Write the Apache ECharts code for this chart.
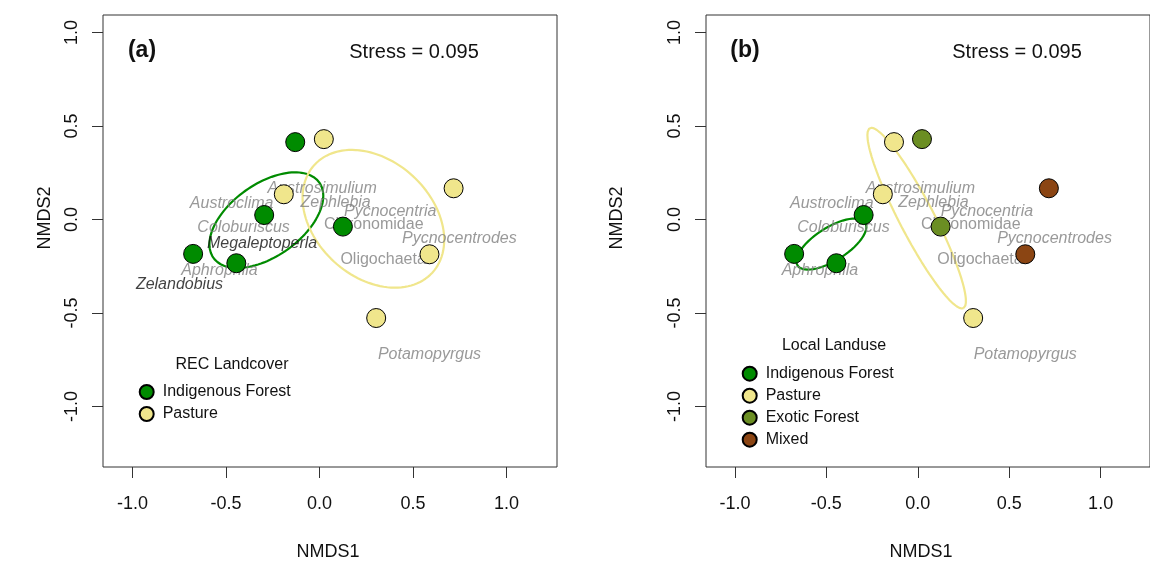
<!DOCTYPE html>
<html>
<head>
<meta charset="utf-8">
<script src="https://cdn.jsdelivr.net/npm/echarts@6/dist/echarts.min.js"></script>
<style>
  html, body { margin: 0; padding: 0; background: #ffffff; }
  #chart { width: 1150px; height: 562px; }
</style>
</head>
<body>
<div id="chart"></div>
<script>
// NMDS site scores (10 stream sites)
const siteX = [-0.130, 0.023, 0.717, -0.191, -0.296, 0.125, -0.676, -0.445, 0.588, 0.303];
const siteY = [0.414, 0.430, 0.167, 0.135, 0.024, -0.038, -0.184, -0.234, -0.186, -0.527];

// Site classification: REC landcover (panel a) and local landuse (panel b)
const recLandcover = ['Indigenous Forest', 'Pasture', 'Pasture', 'Pasture', 'Indigenous Forest',
                      'Indigenous Forest', 'Indigenous Forest', 'Indigenous Forest', 'Pasture', 'Pasture'];
const localLanduse = ['Pasture', 'Exotic Forest', 'Mixed', 'Pasture', 'Indigenous Forest',
                      'Exotic Forest', 'Indigenous Forest', 'Indigenous Forest', 'Mixed', 'Pasture'];
const recClasses = ['Indigenous Forest', 'Pasture'];
const localClasses = ['Indigenous Forest', 'Pasture', 'Exotic Forest', 'Mixed'];
const localEllipseClasses = ['Indigenous Forest', 'Pasture'];

// Species scores
const speciesNames = ['Austrosimulium', 'Austroclima', 'Zephlebia', 'Pycnocentria', 'Chironomidae',
                      'Coloburiscus', 'Pycnocentrodes', 'Megaleptoperla', 'Oligochaeta', 'Aphrophila',
                      'Zelandobius', 'Potamopyrgus'];
const speciesX = [0.014, -0.470, 0.086, 0.378, 0.290, -0.406, 0.748, -0.307, 0.340, -0.535, -0.749, 0.588];
const speciesY = [0.167, 0.088, 0.092, 0.045, -0.027, -0.044, -0.100, -0.127, -0.213, -0.274, -0.350, -0.725];
// Taxa labelled on the local-landuse ordination
const speciesPanelB = ['Austrosimulium', 'Austroclima', 'Zephlebia', 'Pycnocentria', 'Chironomidae',
                       'Coloburiscus', 'Pycnocentrodes', 'Oligochaeta', 'Aphrophila', 'Potamopyrgus'];
// Indicator taxa for REC landcover
const indicatorTaxa = ['Megaleptoperla', 'Zelandobius'];

const tickValues = [-1.0, -0.5, 0.0, 0.5, 1.0];
const stressValue = 0.095;

// ---- styling ----
const FONT = "'Liberation Sans', Arial, Helvetica, sans-serif";
const classColors = {
  'Indigenous Forest': '#008B00',
  'Pasture': '#F0E68C',
  'Exotic Forest': '#6B8E23',
  'Mixed': '#8B4513'
};
const uprightTaxa = ['Chironomidae', 'Oligochaeta'];
const X_RANGE = [-1.158, 1.270];
const Y_RANGE = [-1.324, 1.094];
const panels = [
  { left: 103, title: '(a)', legendTitle: 'REC Landcover', groups: recLandcover, classes: recClasses,
    ellipseClasses: recClasses, taxa: speciesNames,
    legendLeft: 138.7, legendTop: 384, legendTitleX: 232, legendTitleY: 365,
    xNameX: 328, yNameX: 45 },
  { left: 706, title: '(b)', legendTitle: 'Local Landuse', groups: localLanduse, classes: localClasses,
    ellipseClasses: localEllipseClasses, taxa: speciesPanelB,
    legendLeft: 741.7, legendTop: 365.7, legendTitleX: 834, legendTitleY: 346,
    xNameX: 921, yNameX: 617 }
];

// Standard-deviation ellipse of a group of site scores (sample covariance)
function sdEllipse(xs, ys) {
  const n = xs.length;
  const mx = xs.reduce((s, v) => s + v, 0) / n;
  const my = ys.reduce((s, v) => s + v, 0) / n;
  let sxx = 0, syy = 0, sxy = 0;
  for (let i = 0; i < n; i++) {
    const dx = xs[i] - mx, dy = ys[i] - my;
    sxx += dx * dx; syy += dy * dy; sxy += dx * dy;
  }
  sxx /= (n - 1); syy /= (n - 1); sxy /= (n - 1);
  const mid = (sxx + syy) / 2;
  const rad = Math.sqrt(((sxx - syy) / 2) ** 2 + sxy * sxy);
  const r1 = Math.sqrt(mid + rad), r2 = Math.sqrt(Math.max(mid - rad, 0));
  const th = 0.5 * Math.atan2(2 * sxy, sxx - syy);
  const pts = [];
  for (let k = 0; k <= 120; k++) {
    const t = (2 * Math.PI * k) / 120;
    pts.push([
      mx + r1 * Math.cos(th) * Math.cos(t) - r2 * Math.sin(th) * Math.sin(t),
      my + r1 * Math.sin(th) * Math.cos(t) + r2 * Math.cos(th) * Math.sin(t)
    ]);
  }
  return pts;
}

const grid = [], xAxis = [], yAxis = [], series = [], legend = [], graphic = [];

panels.forEach((p, gi) => {
  grid.push({ left: p.left, top: 15, width: 454, height: 452, show: true,
              borderColor: '#333', borderWidth: 1, backgroundColor: 'transparent' });
  const axisCommon = {
    gridIndex: gi, type: 'value',
    axisLine: { show: false, onZero: false },
    axisTick: { show: true, customValues: tickValues, length: 11, lineStyle: { color: '#333', width: 1 } },
    splitLine: { show: false }
  };
  xAxis.push(Object.assign({}, axisCommon, {
    min: X_RANGE[0], max: X_RANGE[1],
    axisLabel: { customValues: tickValues, formatter: v => v.toFixed(1), margin: 28,
                 fontSize: 18, color: '#111', fontFamily: FONT }
  }));
  yAxis.push(Object.assign({}, axisCommon, {
    min: Y_RANGE[0], max: Y_RANGE[1],
    axisLabel: { customValues: tickValues, formatter: v => v.toFixed(1), margin: 22, rotate: 90,
                 fontSize: 18, color: '#111', fontFamily: FONT }
  }));

  // group ellipses
  p.ellipseClasses.forEach(cls => {
    const xs = [], ys = [];
    p.groups.forEach((g, i) => { if (g === cls) { xs.push(siteX[i]); ys.push(siteY[i]); } });
    series.push({
      type: 'line', name: cls + ' ellipse', xAxisIndex: gi, yAxisIndex: gi,
      data: sdEllipse(xs, ys), showSymbol: false, symbol: 'none', smooth: false,
      lineStyle: { color: classColors[cls], width: 2.2 }, z: 2, silent: true
    });
  });

  // species labels
  series.push({
    type: 'scatter', name: 'species ' + gi, xAxisIndex: gi, yAxisIndex: gi, z: 3, silent: true,
    symbolSize: 1, itemStyle: { color: 'transparent' },
    data: p.taxa.map(name => {
      const i = speciesNames.indexOf(name);
      const ind = gi === 0 && indicatorTaxa.includes(name);
      return {
        value: [speciesX[i], speciesY[i]], name,
        label: { fontStyle: uprightTaxa.includes(name) ? 'normal' : 'italic',
                 color: ind ? '#111' : '#7f7f7f' }
      };
    }),
    label: { show: true, position: 'inside', formatter: '{b}', fontSize: 16, fontFamily: FONT }
  });

  // sites
  p.classes.forEach(cls => {
    const data = [];
    p.groups.forEach((g, i) => { if (g === cls) data.push([siteX[i], siteY[i]]); });
    series.push({
      type: 'scatter', name: cls, xAxisIndex: gi, yAxisIndex: gi, z: 4, silent: true,
      symbol: 'circle', symbolSize: 19, data,
      itemStyle: { color: classColors[cls], borderColor: '#000', borderWidth: 1, opacity: 1 }
    });
  });

  legend.push({
    data: p.classes, orient: 'vertical', left: p.legendLeft, top: p.legendTop,
    itemWidth: 22, itemHeight: 14, itemGap: 6, padding: 0, icon: 'circle', selectedMode: false,
    textStyle: { fontSize: 16, color: '#111', fontFamily: FONT }
  });

  const off = p.left - 103;
  graphic.push(
    { type: 'text', x: 142 + off, y: 51, style: { text: p.title, textAlign: 'center', textVerticalAlign: 'middle',
      fontSize: 23, fontWeight: 'bold', fontFamily: FONT, fill: '#111' } },
    { type: 'text', x: 414 + off, y: 52, style: { text: 'Stress = ' + stressValue.toFixed(3), textAlign: 'center',
      textVerticalAlign: 'middle', fontSize: 20, fontFamily: FONT, fill: '#111' } },
    { type: 'text', x: p.legendTitleX, y: p.legendTitleY, style: { text: p.legendTitle, textAlign: 'center',
      textVerticalAlign: 'middle', fontSize: 16, fontFamily: FONT, fill: '#111' } },
    { type: 'text', x: p.xNameX, y: 552, style: { text: 'NMDS1', textAlign: 'center', textVerticalAlign: 'middle',
      fontSize: 18, fontFamily: FONT, fill: '#111' } },
    { type: 'text', x: p.yNameX, y: 218, rotation: Math.PI / 2, style: { text: 'NMDS2', textAlign: 'center',
      textVerticalAlign: 'middle', fontSize: 18, fontFamily: FONT, fill: '#111' } }
  );
});

const chart = echarts.init(document.getElementById('chart'), null, { renderer: 'canvas' });
chart.setOption({
  animation: false,
  backgroundColor: '#ffffff',
  grid, xAxis, yAxis, series, legend, graphic,
  tooltip: { show: false }
});
</script>
</body>
</html>
